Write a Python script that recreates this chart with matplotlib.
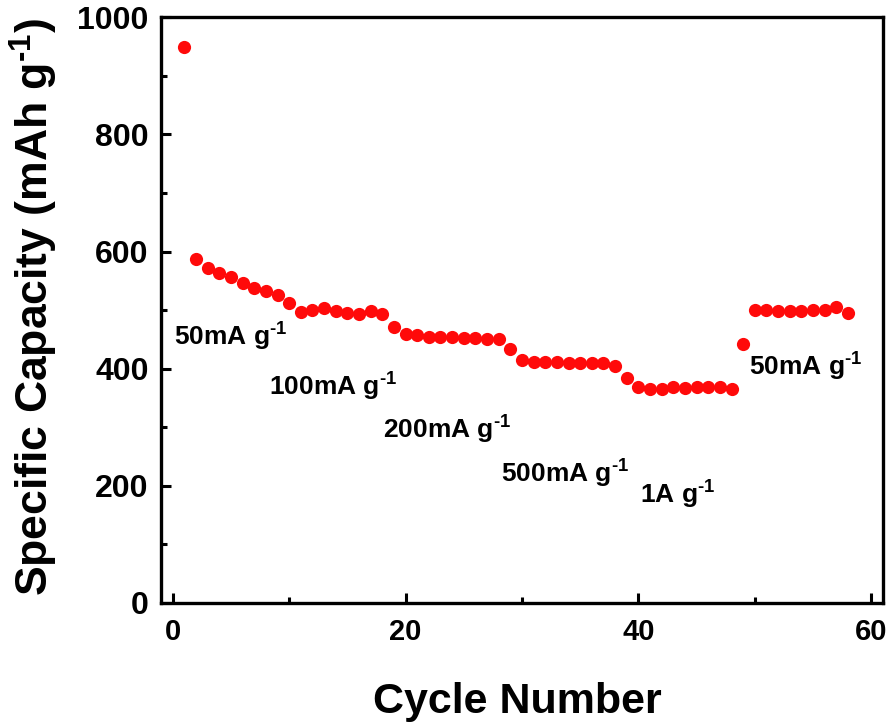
"""Rate capability plot: specific capacity vs cycle number."""

import matplotlib

matplotlib.use("Agg")
import matplotlib.pyplot as plt
from matplotlib.ticker import MultipleLocator

plt.rcParams["font.family"] = ["Liberation Sans", "DejaVu Sans"]
plt.rcParams["font.weight"] = "bold"
plt.rcParams["mathtext.fontset"] = "custom"
plt.rcParams["mathtext.rm"] = "Liberation Sans:bold"
plt.rcParams["mathtext.bf"] = "Liberation Sans:bold"
plt.rcParams["mathtext.default"] = "bf"

cycles = list(range(1, 59))
capacity = [
    949, 587, 572, 563, 556, 546, 538, 533, 526, 512,  # 50 mA/g
    497, 500, 504, 499, 496, 494, 499, 494,  # 100 mA/g
    471, 460, 458, 455, 455, 454, 453, 452, 451, 451,  # 200 mA/g
    434, 415, 411, 411, 411, 410, 410, 409, 409, 405,  # 500 mA/g
    385, 368, 366, 365, 368, 367, 368, 368, 368, 365,  # 1 A/g
    443, 501, 500, 499, 499, 499, 500, 500, 505, 495,  # back to 50 mA/g
]

sup = r"$^{\text{-1}}$"
rate_labels = ["50mA g" + sup, "100mA g" + sup, "200mA g" + sup,
               "500mA g" + sup, "1A g" + sup, "50mA g" + sup]
label_x = [0.1, 8.3, 18.1, 28.2, 40.1, 49.5]
label_y = [439, 354, 280, 205, 169, 388]

fig = plt.figure(figsize=(8.9, 7.23), dpi=100)
ax = fig.add_axes([0.181, 0.166, 0.811, 0.810])

ax.plot(cycles, capacity, "o", color="#ff0a0a", markersize=9.5,
        markeredgewidth=0, clip_on=False)

for text, x, y in zip(rate_labels, label_x, label_y):
    ax.text(x, y, text, fontsize=19, fontweight="bold", ha="left",
            va="baseline")

ax.set_xlim(-1, 61)
ax.set_ylim(0, 1000)
ax.xaxis.set_major_locator(MultipleLocator(20))
ax.xaxis.set_minor_locator(MultipleLocator(10))
ax.yaxis.set_major_locator(MultipleLocator(200))
ax.yaxis.set_minor_locator(MultipleLocator(100))

ax.tick_params(which="both", direction="in", top=False, right=False,
               width=2.2)
ax.tick_params(which="major", length=7)
ax.tick_params(which="minor", length=4)
ax.tick_params(axis="y", labelsize=23, pad=9)
ax.tick_params(axis="x", labelsize=21, pad=11)
for lab in ax.get_xticklabels() + ax.get_yticklabels():
    lab.set_fontweight("bold")

for spine in ax.spines.values():
    spine.set_linewidth(2.4)

ax.set_xlabel("Cycle Number", fontsize=31, fontweight="bold")
ax.set_ylabel("Specific Capacity (mAh g" + sup + ")", fontsize=32,
              fontweight="bold")
ax.xaxis.set_label_coords(0.494, -0.135)
ax.yaxis.set_label_coords(-0.14, 0.505)

fig.savefig("out.png", dpi=100)
